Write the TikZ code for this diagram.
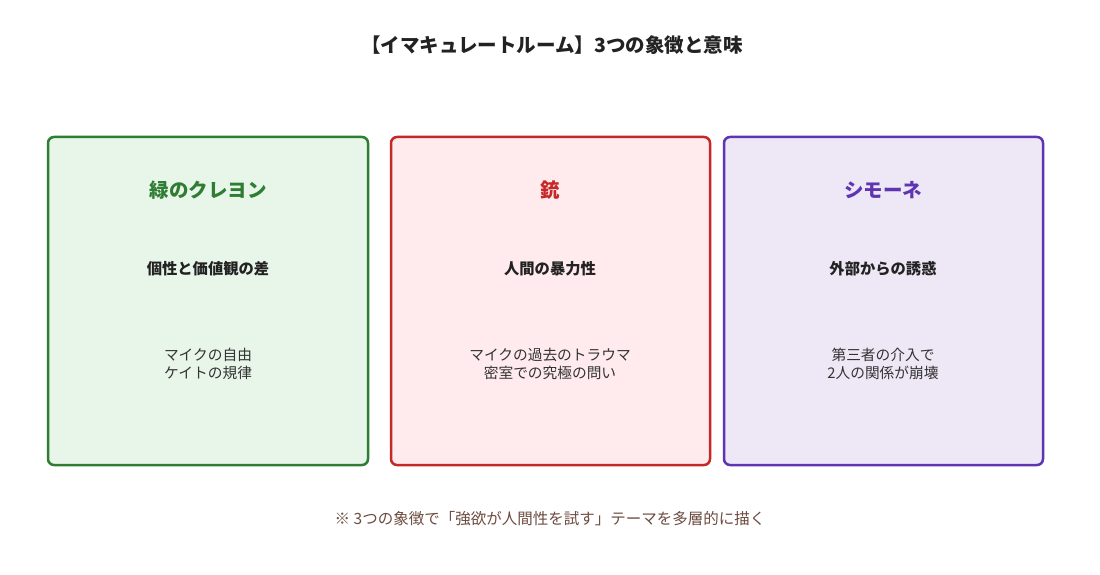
\documentclass[tikz,border=0pt]{standalone}
\usepackage{fontspec}
\setmainfont{Noto Sans CJK JP}
\definecolor{gstroke}{HTML}{2E7D32}
\definecolor{gfill}{HTML}{E8F5E9}
\definecolor{rstroke}{HTML}{C62828}
\definecolor{rfill}{HTML}{FFEBEE}
\definecolor{pstroke}{HTML}{5E35B1}
\definecolor{pfill}{HTML}{EDE7F6}
\definecolor{txt}{HTML}{222222}
\definecolor{bodytxt}{HTML}{333333}
\definecolor{foot}{HTML}{6D4C41}
\begin{document}
\begin{tikzpicture}[x=1pt,y=-1pt,
  card/.style={draw=#1, line width=2.5pt, rounded corners=6pt},
  cardtitle/.style={font=\fontsize{19.5}{23}\selectfont\bfseries, anchor=center},
  sub/.style={font=\fontsize{15.3}{19}\selectfont\bfseries, text=txt, anchor=center},
  body/.style={font=\fontsize{14.7}{18}\selectfont, text=bodytxt, align=center, anchor=center}]
\useasboundingbox[fill=white] (0,0) rectangle (1100,575);
\node[font=\fontsize{19.5}{22}\selectfont\bfseries, text=txt] (title) at (552,45) {【イマキュレートルーム】3つの象徴と意味};
\filldraw[card=gstroke, fill=gfill] (48,137) rectangle (368,465);
\filldraw[card=rstroke, fill=rfill] (391,137) rectangle (710,465);
\filldraw[card=pstroke, fill=pfill] (724,137) rectangle (1043,465);
\node[cardtitle, text=gstroke] (t1) at (208,190) {緑のクレヨン};
\node[cardtitle, text=rstroke] (t2) at (550,190) {銃};
\node[cardtitle, text=pstroke] (t3) at (883,190) {シモーネ};
\node[sub] (s1) at (208,269) {個性と価値観の差};
\node[sub] (s2) at (550,269) {人間の暴力性};
\node[sub] (s3) at (883,269) {外部からの誘惑};
\node[body] (b1) at (208,364) {マイクの自由\\ケイトの規律};
\node[body] (b2) at (550,364) {マイクの過去のトラウマ\\密室での究極の問い};
\node[body] (b3) at (883,364) {第三者の介入で\\2人の関係が崩壊};
\node[font=\fontsize{15.5}{18}\selectfont, text=foot] (note) at (550,519) {※ 3つの象徴で「強欲が人間性を試す」テーマを多層的に描く};
\end{tikzpicture}
\end{document}
